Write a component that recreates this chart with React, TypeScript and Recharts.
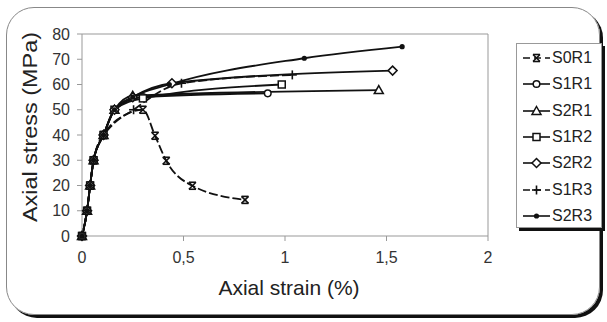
import React from 'react';
import { LineChart, Line, XAxis, YAxis, ReferenceLine } from 'recharts';

// axial strain (%) / axial stress (MPa)
const s0r1 = [
  { x: 0, y: 0 }, { x: 0.025, y: 10 }, { x: 0.04, y: 20 }, { x: 0.057, y: 30 }, { x: 0.106, y: 40 },
  { x: 0.3, y: 50 }, { x: 0.36, y: 39.7 }, { x: 0.415, y: 29.8 }, { x: 0.544, y: 19.9 }, { x: 0.803, y: 14.3 },
];
const s1r1 = [
  { x: 0, y: 0 }, { x: 0.025, y: 10 }, { x: 0.04, y: 20 }, { x: 0.057, y: 30 }, { x: 0.106, y: 40 },
  { x: 0.16, y: 50 }, { x: 0.3, y: 55 }, { x: 0.915, y: 56.5 },
];
const s2r1 = [
  { x: 0, y: 0 }, { x: 0.025, y: 10 }, { x: 0.04, y: 20 }, { x: 0.057, y: 30 }, { x: 0.106, y: 40 },
  { x: 0.16, y: 50 }, { x: 0.25, y: 55.5 }, { x: 1.462, y: 57.8 },
];
const s1r2 = [
  { x: 0, y: 0 }, { x: 0.025, y: 10 }, { x: 0.04, y: 20 }, { x: 0.057, y: 30 }, { x: 0.106, y: 40 },
  { x: 0.16, y: 50 }, { x: 0.3, y: 54.5 }, { x: 0.984, y: 60 },
];
const s2r2 = [
  { x: 0, y: 0 }, { x: 0.025, y: 10 }, { x: 0.04, y: 20 }, { x: 0.057, y: 30 }, { x: 0.106, y: 40 },
  { x: 0.16, y: 50 }, { x: 0.25, y: 55 }, { x: 0.443, y: 60.5 }, { x: 1.53, y: 65.5 },
];
const s1r3 = [
  { x: 0, y: 0 }, { x: 0.025, y: 10 }, { x: 0.04, y: 20 }, { x: 0.057, y: 30 }, { x: 0.106, y: 40 },
  { x: 0.254, y: 50 }, { x: 0.49, y: 60.5 }, { x: 1.036, y: 63.8 },
];
const s2r3 = [
  { x: 0, y: 0 }, { x: 0.025, y: 10 }, { x: 0.04, y: 20 }, { x: 0.057, y: 30 }, { x: 0.106, y: 40 },
  { x: 0.16, y: 50 }, { x: 0.25, y: 55 }, { x: 0.43, y: 60 }, { x: 1.095, y: 70.4 }, { x: 1.577, y: 75 },
];

const xTicks = [0, 0.5, 1, 1.5, 2];
const yTicks = [0, 10, 20, 30, 40, 50, 60, 70, 80];

const font = '"Liberation Sans", Arial, sans-serif';
const ink = '#111';

type Shape = 'x' | 'circle' | 'triangle' | 'square' | 'diamond' | 'plus' | 'dot';

const Marker = ({ cx, cy, shape }: { cx: number; cy: number; shape: Shape }) => {
  const s = 3.5;
  switch (shape) {
    case 'x':
      return (
        <g stroke={ink} strokeWidth={1.6}>
          <line x1={cx - s} y1={cy - s} x2={cx + s} y2={cy + s} />
          <line x1={cx - s} y1={cy + s} x2={cx + s} y2={cy - s} />
          <line x1={cx - s} y1={cy - s} x2={cx + s} y2={cy - s} />
          <line x1={cx - s} y1={cy + s} x2={cx + s} y2={cy + s} />
        </g>
      );
    case 'circle':
      return <circle cx={cx} cy={cy} r={3.3} fill="#fff" stroke={ink} strokeWidth={1.5} />;
    case 'triangle':
      return (
        <polygon
          points={`${cx},${cy - 4.5} ${cx + 4.5},${cy + 3.5} ${cx - 4.5},${cy + 3.5}`}
          fill="#fff" stroke={ink} strokeWidth={1.5}
        />
      );
    case 'square':
      return <rect x={cx - 3.5} y={cy - 3.5} width={7} height={7} fill="#fff" stroke={ink} strokeWidth={1.5} />;
    case 'diamond':
      return (
        <polygon
          points={`${cx},${cy - 4.5} ${cx + 4.5},${cy} ${cx},${cy + 4.5} ${cx - 4.5},${cy}`}
          fill="#fff" stroke={ink} strokeWidth={1.5}
        />
      );
    case 'plus':
      return (
        <g stroke={ink} strokeWidth={1.6}>
          <line x1={cx - 4.5} y1={cy} x2={cx + 4.5} y2={cy} />
          <line x1={cx} y1={cy - 4.5} x2={cx} y2={cy + 4.5} />
        </g>
      );
    default:
      return <circle cx={cx} cy={cy} r={2.6} fill={ink} />;
  }
};

const series: { name: string; data: { x: number; y: number }[]; shape: Shape; dash?: string }[] = [
  { name: 'S0R1', data: s0r1, shape: 'x', dash: '9 3' },
  { name: 'S1R1', data: s1r1, shape: 'circle' },
  { name: 'S2R1', data: s2r1, shape: 'triangle' },
  { name: 'S1R2', data: s1r2, shape: 'square' },
  { name: 'S2R2', data: s2r2, shape: 'diamond' },
  { name: 'S1R3', data: s1r3, shape: 'plus', dash: '9 3' },
  { name: 'S2R3', data: s2r3, shape: 'dot' },
];

const fmt = (v: number) => String(v).replace('.', ',');

export default function App() {
  return (
    <div style={{ position: 'absolute', left: 0, top: 0, width: 607, height: 322, background: '#fff', fontFamily: font }}>
      {/* rounded frame with shadow */}
      <div
        style={{
          position: 'absolute', left: 6, top: 7, width: 592, height: 306,
          border: '1.5px solid #888', borderRadius: 28, boxShadow: '3px 3px 0 #111',
        }}
      />
      <div style={{ position: 'absolute', left: 0, top: 0 }}>
        <LineChart width={607} height={322} margin={{ top: 34, right: 119, bottom: 56, left: 42 }}>
          <XAxis
            dataKey="x" type="number" domain={[0, 2]} ticks={xTicks} tickFormatter={fmt}
            stroke="#999" tickSize={5} tickMargin={11} height={30}
            tick={{ fontSize: 16, fill: '#333', fontFamily: font }}
          />
          <YAxis
            type="number" domain={[0, 80]} ticks={yTicks} stroke="#999" tickSize={5} tickMargin={7} width={40}
            tick={{ fontSize: 16, fill: '#333', fontFamily: font }}
          />
          <ReferenceLine y={80} stroke="#999" />
          <ReferenceLine x={2} stroke="#999" />
          {series.map((s) => (
            <Line
              key={s.name}
              data={s.data}
              dataKey="y"
              name={s.name}
              type="monotone"
              stroke={ink}
              strokeWidth={1.8}
              strokeDasharray={s.dash}
              isAnimationActive={false}
              dot={(p: any) => <Marker key={`${s.name}-${p.index}`} cx={p.cx} cy={p.cy} shape={s.shape} />}
            />
          ))}
        </LineChart>
      </div>
      {/* axis titles */}
      <svg width={607} height={322} style={{ position: 'absolute', left: 0, top: 0, pointerEvents: 'none' }}>
        <text x={289} y={295} textAnchor="middle" fontSize={21} fill="#222" fontFamily={font}>
          Axial strain (%)
        </text>
        <text
          transform="translate(37,127) rotate(-90)" textAnchor="middle" fontSize={21} fill="#222"
          fontFamily={font} textLength={190} lengthAdjust="spacingAndGlyphs"
        >
          Axial stress (MPa)
        </text>
      </svg>
      {/* legend */}
      <div
        style={{
          position: 'absolute', left: 516, top: 43, width: 86, height: 185, boxSizing: 'border-box',
          border: '1px solid #999', boxShadow: '3px 3px 0 #111', background: '#fff',
        }}
      >
        {series.map((s, i) => (
          <div key={s.name} style={{ position: 'absolute', left: 4, top: 3 + i * 26.3, height: 22, display: 'flex', alignItems: 'center' }}>
            <svg width={30} height={22}>
              <line x1={2} y1={11} x2={29} y2={11} stroke={ink} strokeWidth={1.6} strokeDasharray={s.dash ? '7 4' : undefined} />
              <Marker cx={15.5} cy={11} shape={s.shape} />
            </svg>
            <span style={{ fontSize: 16, color: '#222', marginLeft: 1 }}>{s.name}</span>
          </div>
        ))}
      </div>
    </div>
  );
}
